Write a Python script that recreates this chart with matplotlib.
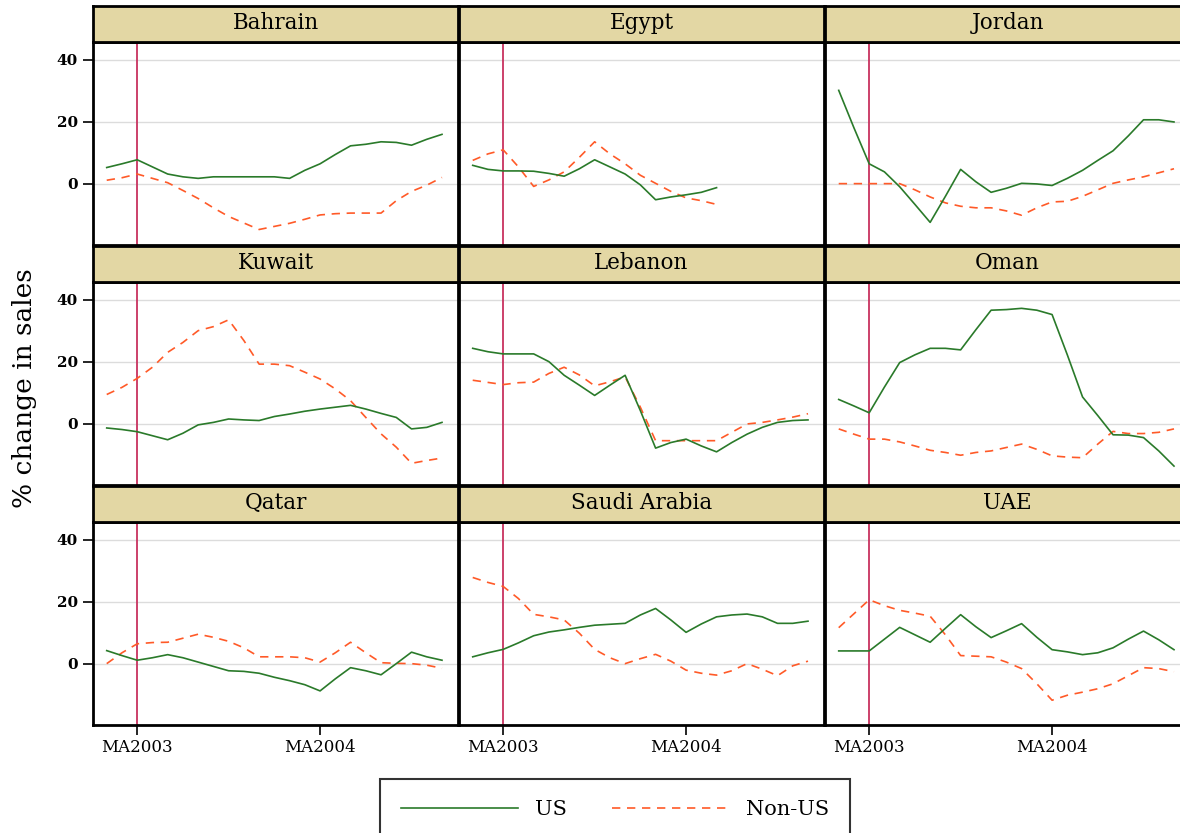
import matplotlib
matplotlib.use("Agg")
import matplotlib.pyplot as plt

plt.rcParams['font.family'] = ['DejaVu Serif']

# months relative to MA2003 (0) ... MA2004 is 12
months = list(range(-2, 21))
tick_pos = [0, 12]
tick_labels = ['MA2003', 'MA2004']
y_ticks = [0, 20, 40]

countries = ['Bahrain', 'Egypt', 'Jordan', 'Kuwait', 'Lebanon', 'Oman',
             'Qatar', 'Saudi Arabia', 'UAE']

bahrain_us = [5.2, 6.4, 7.7, 5.4, 3.1, 2.2, 1.7, 2.2, 2.2, 2.2, 2.2, 2.2, 1.7,
              4.3, 6.4, 9.4, 12.2, 12.7, 13.5, 13.3, 12.4, 14.3, 15.9]
bahrain_non = [1.1, 1.9, 3.1, 1.7, 0.3, -2.2, -4.8, -7.8, -10.6, -12.7, -14.8,
               -13.8, -12.8, -11.5, -10.1, -9.7, -9.5, -9.5, -9.5, -5.5, -2.5, -0.5, 2.0]
egypt_us = [5.9, 4.6, 4.1, 4.1, 4.0, 3.3, 2.4, 4.8, 7.7, 5.4, 3.1, -0.4, -5.2,
            -4.3, -3.6, -2.8, -1.3]
egypt_non = [7.5, 9.6, 10.9, 5.4, -0.9, 1.2, 3.8, 8.5, 13.5, 9.6, 6.4, 2.7, 0.1,
             -2.5, -4.6, -5.5, -6.7]
jordan_us = [30.1, 18.0, 6.4, 3.8, -1.0, -6.7, -12.5, -4.1, 4.6, 0.6, -2.8, -1.5,
             0.1, -0.1, -0.6, 1.7, 4.3, 7.5, 10.6, 15.4, 20.6, 20.6, 19.9]
jordan_non = [0.0, 0.0, 0.0, 0.0, 0.0, -2.0, -4.3, -6.2, -7.3, -7.8, -7.8, -8.8,
              -10.2, -7.8, -5.9, -5.7, -4.1, -2.0, 0.1, 1.2, 2.2, 3.5, 4.8]
kuwait_us = [-1.4, -1.9, -2.6, -3.9, -5.2, -3.1, -0.4, 0.4, 1.5, 1.2, 1.0, 2.3,
             3.1, 4.0, 4.7, 5.3, 5.9, 4.7, 3.3, 2.0, -1.7, -1.2, 0.4]
kuwait_non = [9.4, 11.7, 14.6, 18.2, 23.0, 26.2, 30.0, 31.3, 33.5, 26.8, 19.2,
              19.2, 18.7, 16.6, 14.4, 11.2, 7.4, 2.0, -3.3, -7.6, -12.8, -11.9, -11.1]
lebanon_us = [24.3, 23.2, 22.5, 22.5, 22.5, 20.0, 15.6, 12.4, 9.1, 12.4, 15.6, 4.2,
              -7.9, -6.1, -5.0, -7.2, -9.1, -6.1, -3.4, -1.2, 0.4, 1.0, 1.2]
lebanon_non = [14.0, 13.3, 12.6, 13.2, 13.4, 16.2, 18.2, 15.7, 12.2, 13.5, 15.1,
               5.3, -5.5, -5.5, -5.5, -5.5, -5.5, -2.8, -0.1, 0.4, 1.2, 2.1, 3.2]
oman_us = [7.8, 5.7, 3.5, 11.8, 19.7, 22.2, 24.3, 24.3, 23.8, 30.3, 36.6, 36.8,
           37.2, 36.6, 35.2, 22.2, 8.6, 2.6, -3.6, -3.7, -4.5, -8.8, -13.7]
oman_non = [-1.7, -3.4, -5.0, -5.0, -5.9, -7.2, -8.6, -9.3, -10.2, -9.3, -8.8,
            -7.7, -6.6, -8.3, -10.4, -10.8, -11.0, -6.6, -2.5, -3.2, -3.2, -2.8, -1.7]
qatar_us = [4.2, 2.6, 1.1, 1.9, 2.9, 1.9, 0.5, -0.9, -2.3, -2.5, -3.1, -4.4, -5.5,
            -6.8, -8.8, -4.9, -1.3, -2.3, -3.6, 0.0, 3.7, 2.2, 1.1]
qatar_non = [0.0, 3.5, 6.4, 6.8, 6.9, 8.2, 9.5, 8.5, 7.2, 5.1, 2.2, 2.2, 2.2, 1.9,
             0.5, 3.5, 6.9, 3.5, 0.3, 0.1, 0.0, -0.5, -1.5]
saudi_us = [2.2, 3.5, 4.6, 6.7, 9.0, 10.2, 10.9, 11.7, 12.4, 12.7, 13.0, 15.7,
            17.8, 14.1, 10.1, 12.8, 15.1, 15.7, 16.0, 15.1, 13.0, 13.0, 13.7]
saudi_non = [27.8, 26.2, 24.9, 21.0, 15.9, 15.1, 14.1, 9.8, 4.6, 1.9, 0.0, 1.6,
             3.0, 0.8, -2.1, -3.1, -3.7, -2.3, 0.0, -1.8, -3.9, -0.7, 0.8]
uae_us = [4.1, 4.1, 4.1, 7.9, 11.7, 9.3, 6.9, 11.4, 15.8, 11.9, 8.4, 10.6, 12.9,
          8.5, 4.5, 3.8, 2.9, 3.5, 5.1, 7.9, 10.5, 7.7, 4.5]
uae_non = [11.6, 16.1, 20.6, 18.7, 17.2, 16.3, 15.3, 9.3, 2.6, 2.4, 2.2, 0.5, -1.6,
           -6.5, -11.8, -10.2, -9.2, -8.1, -6.5, -3.9, -1.3, -1.6, -2.6]

us_series = [bahrain_us, egypt_us, jordan_us, kuwait_us, lebanon_us, oman_us,
             qatar_us, saudi_us, uae_us]
non_series = [bahrain_non, egypt_non, jordan_non, kuwait_non, lebanon_non, oman_non,
              qatar_non, saudi_non, uae_non]

US_COLOR = '#2a7a2a'
NON_COLOR = '#ff5a28'
VLINE_COLOR = '#c8325f'
STRIP_COLOR = '#e3d7a4'

W, H = 1180, 833
fig = plt.figure(figsize=(W / 100, H / 100), dpi=100)


def box(left, top, width, height):
    return [left / W, 1 - (top + height) / H, width / W, height / H]


col_left = [93, 459, 825]
plot_top = [42, 282, 522]
plot_h = 203
strip_h = 36
col_w = 365

handles = None
for i, name in enumerate(countries):
    r, c = divmod(i, 3)
    ax = fig.add_axes(box(col_left[c], plot_top[r], col_w, plot_h))
    ax.set_xlim(-2.9, 21.05)
    ax.set_ylim(-19.8, 45.7)
    for y in y_ticks:
        ax.axhline(y, color='#dcdcdc', lw=1.0, zorder=0)
    ax.axvline(0, color=VLINE_COLOR, lw=1.3, zorder=1)
    x = months[:len(us_series[i])]
    l1, = ax.plot(x, us_series[i], color=US_COLOR, lw=1.2, label='US', zorder=3)
    l2, = ax.plot(x, non_series[i], color=NON_COLOR, lw=1.2, ls=(0, (5, 4)),
                  label='Non-US', zorder=2)
    handles = [l1, l2]
    for s in ax.spines.values():
        s.set_linewidth(2.0)
        s.set_color('black')

    ax.set_yticks(y_ticks)
    if c == 0:
        ax.set_yticklabels([str(v) for v in y_ticks], fontsize=11, fontweight='bold')
        ax.tick_params(axis='y', length=7, width=1.2, pad=4)
    else:
        ax.tick_params(axis='y', length=0, labelleft=False)

    ax.set_xticks(tick_pos)
    if r == 2:
        ax.set_xticklabels(tick_labels, fontsize=12)
        ax.tick_params(axis='x', length=7, width=1.2, pad=3)
    else:
        ax.tick_params(axis='x', length=0, labelbottom=False)

    strip = fig.add_axes(box(col_left[c], plot_top[r] - strip_h, col_w, strip_h))
    strip.set_facecolor(STRIP_COLOR)
    strip.set_xticks([])
    strip.set_yticks([])
    for s in strip.spines.values():
        s.set_linewidth(2.0)
        s.set_color('black')
    strip.text(0.5, 0.52, name, ha='center', va='center', fontsize=15.5,
               transform=strip.transAxes)

fig.text(25 / W, 1 - 388 / H, '% change in sales', rotation=90, ha='center',
         va='center', fontsize=19)

leg = fig.legend(handles, ['US', 'Non-US'], ncol=2, loc='upper center',
                 bbox_to_anchor=(615 / W, 1 - 779 / H), fontsize=15,
                 frameon=True, fancybox=False, edgecolor='black',
                 handlelength=5.6, handletextpad=0.8, columnspacing=2.2,
                 borderpad=1.0, borderaxespad=0)
leg.get_frame().set_linewidth(1.5)

fig.savefig('out.png', dpi=100)
